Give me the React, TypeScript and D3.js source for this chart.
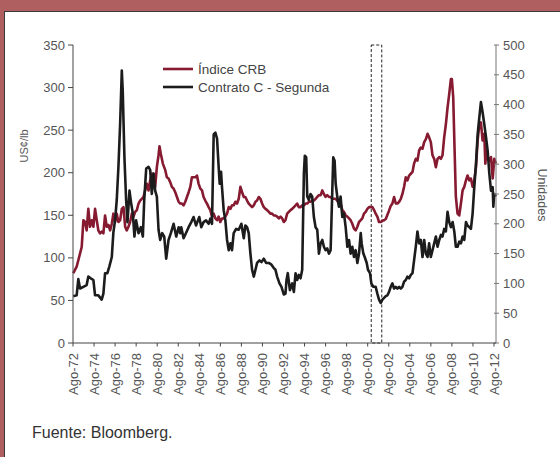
import React from "react";
import * as d3 from "d3";

// Contrato C - Segunda (US¢/lb, left axis): [decimal year, value]
const cafe: [number, number][] = [
  [1972.61, 55], [1972.93, 56], [1973.09, 75], [1973.25, 64], [1973.57, 66], [1973.88, 68],
  [1974.04, 78], [1974.27, 76], [1974.52, 74], [1974.68, 56], [1974.99, 56], [1975.31, 51],
  [1975.47, 58], [1975.63, 82], [1975.85, 82], [1976.04, 90], [1976.27, 101], [1976.42, 130],
  [1976.58, 144], [1976.74, 168], [1976.9, 207], [1977.06, 257], [1977.22, 320], [1977.31, 296],
  [1977.47, 218], [1977.63, 168], [1977.76, 142], [1977.95, 179], [1978.11, 164], [1978.27, 152],
  [1978.42, 125], [1978.58, 144], [1978.81, 129], [1979.03, 136], [1979.22, 125], [1979.35, 168],
  [1979.54, 205], [1979.76, 207], [1979.92, 203], [1980.07, 175], [1980.23, 199], [1980.39, 179],
  [1980.55, 172], [1980.71, 133], [1980.87, 121], [1981.06, 129], [1981.25, 125], [1981.44, 99],
  [1981.66, 121], [1981.88, 129], [1982.14, 140], [1982.39, 125], [1982.62, 136], [1982.77, 129],
  [1982.87, 136], [1983.09, 123], [1983.31, 129], [1983.57, 136], [1983.82, 142], [1984.04, 148],
  [1984.27, 138], [1984.46, 144], [1984.58, 148], [1984.77, 136], [1984.99, 142], [1985.22, 144],
  [1985.47, 140], [1985.63, 146], [1985.79, 140], [1985.95, 245], [1986.11, 247], [1986.27, 240],
  [1986.42, 207], [1986.52, 187], [1986.65, 201], [1986.74, 183], [1986.9, 156], [1987.06, 144],
  [1987.22, 121], [1987.38, 109], [1987.54, 117], [1987.69, 109], [1987.85, 129], [1988.08, 134],
  [1988.33, 133], [1988.58, 140], [1988.81, 123], [1988.96, 138], [1989.12, 136], [1989.28, 129],
  [1989.44, 105], [1989.6, 86], [1989.76, 78], [1989.92, 86], [1990.07, 94], [1990.3, 97],
  [1990.49, 95], [1990.71, 99], [1990.93, 94], [1991.19, 94], [1991.44, 92], [1991.66, 88],
  [1991.82, 86], [1991.98, 78], [1992.2, 70], [1992.39, 66], [1992.61, 57], [1992.77, 58],
  [1992.87, 74], [1992.99, 82], [1993.19, 62], [1993.41, 70], [1993.57, 60], [1993.73, 82],
  [1993.88, 74], [1994.04, 80], [1994.2, 76], [1994.36, 86], [1994.52, 199], [1994.61, 220],
  [1994.74, 218], [1994.84, 172], [1994.99, 168], [1995.15, 175], [1995.31, 172], [1995.47, 148],
  [1995.63, 136], [1995.79, 133], [1995.95, 105], [1996.11, 117], [1996.27, 121], [1996.42, 113],
  [1996.58, 109], [1996.74, 111], [1996.9, 105], [1997.06, 109], [1997.22, 179], [1997.31, 218],
  [1997.44, 214], [1997.54, 187], [1997.69, 172], [1997.85, 160], [1998.01, 172], [1998.17, 148],
  [1998.33, 152], [1998.49, 136], [1998.65, 113], [1998.81, 121], [1998.96, 105], [1999.12, 113],
  [1999.28, 101], [1999.44, 109], [1999.6, 94], [1999.76, 105], [1999.92, 129], [2000.01, 117],
  [2000.17, 105], [2000.3, 101], [2000.49, 94], [2000.61, 86], [2000.8, 82], [2000.93, 70],
  [2001.12, 66], [2001.34, 66], [2001.5, 58], [2001.66, 51], [2001.82, 47], [2001.98, 51],
  [2002.14, 53], [2002.3, 55], [2002.46, 56], [2002.61, 60], [2002.77, 66], [2002.93, 70],
  [2003.09, 64], [2003.25, 66], [2003.41, 64], [2003.57, 66], [2003.73, 64], [2003.88, 66],
  [2004.04, 72], [2004.2, 74], [2004.36, 78], [2004.52, 76], [2004.68, 80], [2004.84, 82],
  [2004.99, 97], [2005.15, 113], [2005.31, 131], [2005.47, 117], [2005.63, 121], [2005.79, 101],
  [2005.95, 121], [2006.11, 105], [2006.27, 101], [2006.42, 117], [2006.58, 101], [2006.74, 109],
  [2006.9, 117], [2007.06, 125], [2007.22, 113], [2007.38, 121], [2007.54, 127], [2007.69, 125],
  [2007.85, 134], [2008.01, 131], [2008.17, 154], [2008.33, 142], [2008.49, 136], [2008.65, 142],
  [2008.81, 131], [2008.96, 113], [2009.12, 113], [2009.28, 119], [2009.44, 117], [2009.6, 125],
  [2009.76, 121], [2009.92, 142], [2010.07, 138], [2010.23, 136], [2010.39, 134], [2010.55, 152],
  [2010.71, 183], [2010.87, 210], [2011.03, 245], [2011.19, 265], [2011.34, 283], [2011.5, 271],
  [2011.66, 257], [2011.82, 242], [2011.98, 226], [2012.14, 199], [2012.3, 179], [2012.46, 183],
  [2012.52, 160], [2012.61, 175], [2012.77, 172],
];

// Índice CRB (Unidades, right axis): [decimal year, value]
const crb: [number, number][] = [
  [1972.61, 117], [1972.93, 128], [1973.25, 150], [1973.41, 161], [1973.57, 206], [1973.73, 203],
  [1973.88, 189], [1974.04, 225], [1974.2, 195], [1974.36, 206], [1974.52, 195], [1974.68, 225],
  [1974.84, 206], [1974.99, 189], [1975.15, 184], [1975.31, 187], [1975.47, 184], [1975.63, 214],
  [1975.79, 195], [1975.95, 198], [1976.11, 189], [1976.27, 200], [1976.42, 217], [1976.58, 203],
  [1976.74, 217], [1976.9, 203], [1977.06, 206], [1977.22, 225], [1977.38, 228], [1977.54, 195],
  [1977.69, 189], [1977.85, 195], [1978.01, 203], [1978.17, 217], [1978.33, 212], [1978.49, 220],
  [1978.65, 223], [1978.81, 234], [1978.96, 239], [1979.12, 242], [1979.28, 245], [1979.44, 256],
  [1979.6, 267], [1979.76, 256], [1979.92, 273], [1980.07, 284], [1980.23, 284], [1980.39, 262],
  [1980.55, 295], [1980.71, 315], [1980.8, 330], [1980.93, 317], [1981.12, 301], [1981.35, 290],
  [1981.5, 278], [1981.66, 276], [1981.82, 270], [1981.98, 262], [1982.14, 259], [1982.3, 253],
  [1982.46, 245], [1982.62, 237], [1982.77, 234], [1982.93, 234], [1983.09, 231], [1983.25, 237],
  [1983.41, 245], [1983.57, 253], [1983.73, 262], [1983.88, 278], [1984.04, 278], [1984.2, 278],
  [1984.36, 281], [1984.52, 267], [1984.68, 259], [1984.84, 256], [1984.99, 245], [1985.15, 239],
  [1985.31, 234], [1985.47, 228], [1985.63, 223], [1985.79, 212], [1985.95, 217], [1986.11, 209],
  [1986.27, 206], [1986.42, 212], [1986.58, 203], [1986.74, 209], [1986.9, 209], [1987.06, 212],
  [1987.22, 217], [1987.38, 228], [1987.54, 225], [1987.69, 231], [1987.85, 231], [1988.01, 237],
  [1988.17, 234], [1988.33, 242], [1988.49, 262], [1988.65, 253], [1988.81, 245], [1988.96, 245],
  [1989.12, 239], [1989.28, 234], [1989.44, 231], [1989.6, 228], [1989.76, 231], [1989.92, 237],
  [1990.07, 239], [1990.23, 245], [1990.39, 242], [1990.55, 234], [1990.71, 228], [1990.87, 225],
  [1991.03, 223], [1991.19, 220], [1991.34, 217], [1991.5, 217], [1991.66, 214], [1991.82, 214],
  [1991.98, 212], [1992.14, 209], [1992.3, 212], [1992.46, 209], [1992.61, 203], [1992.77, 206],
  [1992.93, 217], [1993.09, 220], [1993.25, 223], [1993.41, 225], [1993.57, 228], [1993.73, 231],
  [1993.88, 234], [1994.04, 228], [1994.2, 228], [1994.36, 231], [1994.52, 231], [1994.68, 234],
  [1994.84, 234], [1994.99, 237], [1995.15, 237], [1995.31, 239], [1995.47, 239], [1995.63, 242],
  [1995.79, 245], [1995.95, 248], [1996.11, 248], [1996.27, 256], [1996.42, 250], [1996.58, 245],
  [1996.74, 248], [1996.9, 245], [1997.06, 245], [1997.22, 242], [1997.38, 242], [1997.54, 242],
  [1997.69, 239], [1997.85, 234], [1998.01, 234], [1998.17, 223], [1998.33, 220], [1998.49, 214],
  [1998.65, 212], [1998.81, 209], [1998.96, 206], [1999.12, 200], [1999.28, 192], [1999.44, 189],
  [1999.6, 195], [1999.76, 203], [1999.92, 206], [2000.07, 209], [2000.23, 217], [2000.39, 220],
  [2000.55, 225], [2000.71, 228], [2000.87, 228], [2001.03, 228], [2001.19, 223], [2001.34, 217],
  [2001.5, 212], [2001.66, 203], [2001.82, 203], [2001.98, 205], [2002.14, 206], [2002.3, 208],
  [2002.46, 215], [2002.61, 222], [2002.77, 230], [2002.93, 234], [2003.09, 245], [2003.25, 234],
  [2003.41, 234], [2003.57, 237], [2003.73, 242], [2003.88, 250], [2004.04, 262], [2004.2, 278],
  [2004.36, 273], [2004.52, 281], [2004.68, 284], [2004.84, 287], [2004.99, 301], [2005.15, 309],
  [2005.31, 306], [2005.47, 323], [2005.63, 328], [2005.79, 326], [2005.95, 337], [2006.11, 342],
  [2006.27, 351], [2006.42, 345], [2006.58, 337], [2006.74, 315], [2006.9, 309], [2007.06, 295],
  [2007.22, 309], [2007.38, 312], [2007.54, 309], [2007.69, 315], [2007.85, 345], [2008.01, 367],
  [2008.17, 395], [2008.33, 418], [2008.49, 443], [2008.58, 443], [2008.71, 412], [2008.84, 323],
  [2008.96, 245], [2009.12, 217], [2009.28, 214], [2009.44, 234], [2009.6, 256], [2009.76, 262],
  [2009.92, 273], [2010.07, 281], [2010.23, 273], [2010.39, 276], [2010.55, 262], [2010.71, 273],
  [2010.87, 295], [2011.03, 340], [2011.19, 367], [2011.34, 370], [2011.5, 340], [2011.66, 351],
  [2011.76, 301], [2011.88, 323], [2011.98, 312], [2012.14, 306], [2012.3, 312], [2012.46, 276],
  [2012.61, 309], [2012.77, 301],
];

const xTickYears = [1972, 1974, 1976, 1978, 1980, 1982, 1984, 1986, 1988, 1990, 1992, 1994,
  1996, 1998, 2000, 2002, 2004, 2006, 2008, 2010, 2012];
const xTickLabels = ["Ago-72", "Ago-74", "Ago-76", "Ago-78", "Ago-80", "Ago-82", "Ago-84",
  "Ago-86", "Ago-88", "Ago-90", "Ago-92", "Ago-94", "Ago-96", "Ago-98", "Ago-00", "Ago-02",
  "Ago-04", "Ago-06", "Ago-08", "Ago-10", "Ago-12"];
const leftTicks = [0, 50, 100, 150, 200, 250, 300, 350];
const rightTicks = [0, 50, 100, 150, 200, 250, 300, 350, 400, 450, 500];
const highlight = [2000.92, 2001.92];
const seriesNames = ["Índice CRB", "Contrato C - Segunda"];
const FONT = "'Liberation Sans', Arial, sans-serif";
const RED = "#861a30";
const BLACK = "#1c1c1c";

export default function App() {
  const L = 73, R = 494, AXR = 496, T = 45, B = 343;
  const AUG = 7 / 12;
  const x = d3.scaleLinear().domain([1972 + AUG, 2012 + AUG]).range([L, R]);
  const yL = d3.scaleLinear().domain([0, 350]).range([B, T]);
  const yR = d3.scaleLinear().domain([0, 500]).range([B, T]);
  const cafeLine = d3.line<[number, number]>().x((d) => x(d[0])).y((d) => yL(d[1]));
  const crbLine = d3.line<[number, number]>().x((d) => x(d[0])).y((d) => yR(d[1]));

  return (
    <div style={{ position: "fixed", left: 0, top: 0 }}>
      <svg width={560} height={457} style={{ display: "block" }} fontFamily={FONT}>
        <rect x={0} y={0} width={560} height={457} fill="#b05f60" />
        <rect x={4.5} y={11.5} width={600} height={500} fill="#fff" stroke="#3a3a3a" strokeWidth={1} />

        {/* highlight box */}
        <rect
          x={x(highlight[0])}
          y={yR(500)}
          width={x(highlight[1]) - x(highlight[0])}
          height={yR(0) - yR(500)}
          fill="none"
          stroke="#222"
          strokeWidth={1}
          strokeDasharray="3,2"
        />

        {/* lines */}
        <path d={crbLine(crb) || ""} fill="none" stroke={RED} strokeWidth={2.6} strokeLinejoin="round" />
        <path d={cafeLine(cafe) || ""} fill="none" stroke={BLACK} strokeWidth={2.6} strokeLinejoin="round" />

        {/* left axis */}
        <line x1={L} x2={L} y1={T} y2={B} stroke="#444" strokeWidth={1} />
        {leftTicks.map((t) => (
          <g key={"l" + t}>
            <line x1={L - 5} x2={L} y1={yL(t)} y2={yL(t)} stroke="#444" />
            <text x={L - 8} y={yL(t)} dy="0.35em" textAnchor="end" fontSize={13} fill="#555">{t}</text>
          </g>
        ))}
        {/* right axis */}
        <line x1={AXR} x2={AXR} y1={T} y2={B} stroke="#777" strokeWidth={1} />
        {rightTicks.map((t) => (
          <g key={"r" + t}>
            <line x1={AXR - 2} x2={AXR + 3} y1={yR(t)} y2={yR(t)} stroke="#777" />
            <text x={AXR + 7} y={yR(t)} dy="0.35em" textAnchor="start" fontSize={13} fill="#555">{t}</text>
          </g>
        ))}
        {/* bottom axis */}
        <line x1={L} x2={AXR} y1={B} y2={B} stroke="#444" strokeWidth={1} />
        {xTickYears.map((yr, i) => (
          <g key={"x" + yr}>
            <line x1={x(yr + AUG)} x2={x(yr + AUG)} y1={B} y2={B + 3.5} stroke="#444" />
            <text
              transform={`translate(${x(yr + AUG)},${B + 10}) rotate(-90)`}
              dy="0.35em"
              textAnchor="end"
              fontSize={13}
              fill="#555"
            >
              {xTickLabels[i]}
            </text>
          </g>
        ))}

        {/* axis titles */}
        <text transform="translate(24,146) rotate(-90)" dy="0.35em" textAnchor="middle" fontSize={11} fill="#555">
          US¢/lb
        </text>
        <text transform="translate(542,195) rotate(90)" dy="0.35em" textAnchor="middle" fontSize={12.5} fill="#555">
          Unidades
        </text>

        {/* legend */}
        <line x1={163} x2={193} y1={69} y2={69} stroke={RED} strokeWidth={2.6} />
        <text x={198} y={69} dy="0.35em" fontSize={13.5} fill="#444">{seriesNames[0]}</text>
        <line x1={163} x2={193} y1={87} y2={87} stroke={BLACK} strokeWidth={2.6} />
        <text x={198} y={87} dy="0.35em" fontSize={13.5} fill="#444">{seriesNames[1]}</text>

        <text x={32} y={438} fontSize={16} fill="#333">Fuente: Bloomberg.</text>
      </svg>
    </div>
  );
}
